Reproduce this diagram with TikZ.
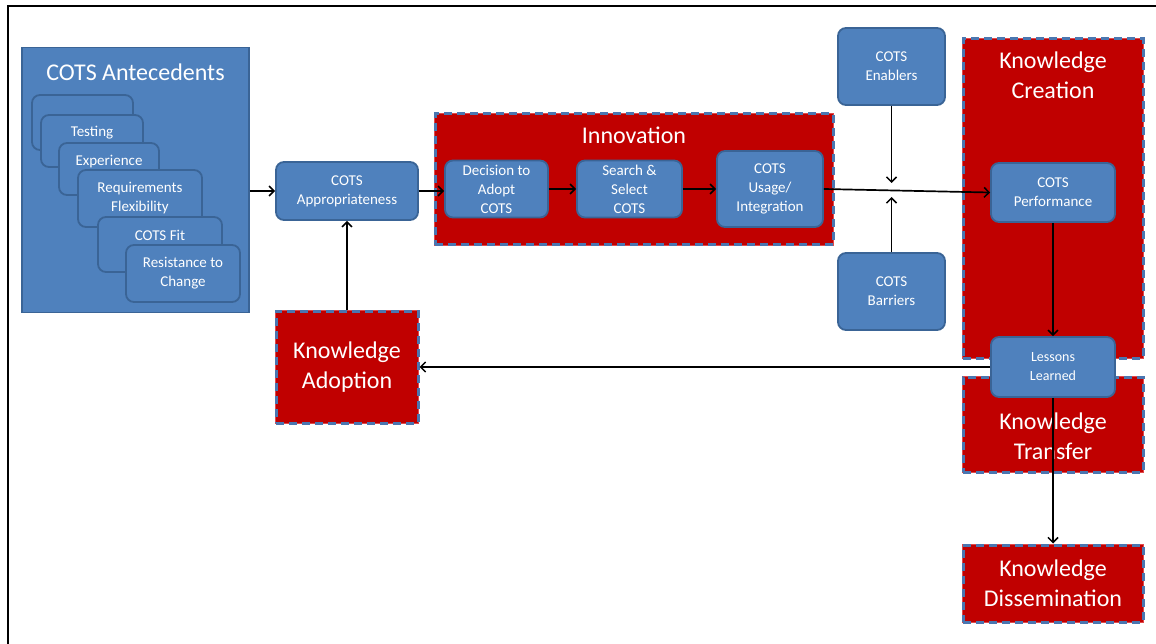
\documentclass[tikz,border=0pt]{standalone}
\usepackage{fontspec}
\setmainfont{Carlito}
\usetikzlibrary{arrows.meta}
\definecolor{blueF}{HTML}{4F81BD}
\definecolor{blueD}{HTML}{3A6496}
\definecolor{redF}{HTML}{C00000}
\definecolor{redL}{HTML}{E04848}
\definecolor{dashB}{HTML}{4A76B0}
\definecolor{arrowC}{HTML}{000000}
\tikzset{
  x=1pt, y=-1pt,
  bluebox/.style={rectangle, rounded corners=8pt, fill=blueF, draw=blueD, line width=1.8pt,
    text=white, font=\fontsize{15}{19}\selectfont, align=center, inner sep=0pt},
  redbox/.style={rectangle, fill=redF, draw=dashB, line width=3pt, dash pattern=on 8pt off 5pt,
    preaction={draw=redL, line width=2.2pt, solid},
    text=white, font=\fontsize{24}{30}\selectfont, align=center, inner sep=0pt},
  htext/.style={text=white, font=\fontsize{24}{30}\selectfont, align=center, inner sep=0pt},
  stext/.style={text=white, font=\fontsize{15}{19}\selectfont, align=center, inner sep=0pt},
  conn/.style={draw=arrowC, line width=1.7pt, -{Straight Barb[length=5pt,width=10pt,line width=1.5pt]}},
}
\begin{document}
\begin{tikzpicture}
\useasboundingbox (0,0) rectangle (1156,644);
\fill[white] (0,0) rectangle (1156,644);
% outer frame
\coordinate (fTL) at (8,6);
\coordinate (fTR) at (1156,6);
\coordinate (fBL) at (8,644);
\draw[black, line width=2.2pt] (fTR) -- (fTL) -- (fBL);

% COTS Antecedents
\node[rectangle, fill=blueF, draw=blueD, line width=1.8pt, minimum width=227pt, minimum height=265pt,
  label={[htext, anchor=center, yshift=-26pt]north:COTS Antecedents}] (ante) at (135.5,180) {};
\node[bluebox, minimum width=101pt, minimum height=55pt] (s1) at (82.5,122.5) {};
\node[bluebox, minimum width=102pt, minimum height=52pt,
  label={[stext, anchor=center, yshift=-19pt]north:Testing}] (s2) at (92,141) {};
\node[bluebox, minimum width=100pt, minimum height=52pt,
  label={[stext, anchor=center, yshift=-19pt]north:Experience}] (s3) at (109,169) {};
\node[bluebox, minimum width=124pt, minimum height=57pt,
  label={[stext, anchor=center, yshift=-29pt]north:Requirements\\Flexibility}] (s4) at (140,198.5) {};
\node[bluebox, minimum width=124pt, minimum height=55pt,
  label={[stext, anchor=center, yshift=-19.5pt]north:COTS Fit}] (s5) at (160,244.5) {};
\node[bluebox, minimum width=114pt, minimum height=57pt] (s6) at (183,273.5) {Resistance to\\Change};

% Appropriateness and adoption
\node[bluebox, minimum width=142pt, minimum height=58pt] (appr) at (347,191) {COTS\\Appropriateness};
\node[redbox, minimum width=142pt, minimum height=112pt] (kadopt) at (347,367) {Knowledge\\Adoption};

% Innovation
\node[redbox, minimum width=398pt, minimum height=131pt,
  label={[htext, anchor=center, yshift=-22.5pt]north:Innovation}] (innov) at (634,179.5) {};
\node[bluebox, minimum width=103pt, minimum height=57pt] (dec) at (496.5,189) {Decision to\\Adopt\\COTS};
\node[bluebox, minimum width=105pt, minimum height=57pt] (srch) at (629.5,189) {Search \&\\Select\\COTS};
\node[bluebox, minimum width=106pt, minimum height=76pt] (usage) at (770,189) {COTS\\Usage/\\Integration};

% Enablers / Barriers
\node[bluebox, minimum width=107pt, minimum height=77pt] (enab) at (891.5,66.5) {COTS\\Enablers};
\node[bluebox, minimum width=107pt, minimum height=77pt] (barr) at (891.5,291.5) {COTS\\Barriers};
\coordinate (enabEnd) at (891.5,183);
\coordinate (barrEnd) at (891.5,197);

% Knowledge creation / transfer / dissemination
\node[redbox, minimum width=180pt, minimum height=319pt,
  label={[htext, anchor=center, yshift=-38pt]north:Knowledge\\Creation}] (kcreate) at (1053,198.5) {};
\node[redbox, minimum width=180pt, minimum height=95pt,
  label={[htext, anchor=center, yshift=-11.5pt]center:Knowledge\\Transfer}] (ktrans) at (1053,424.5) {};
\node[redbox, minimum width=180pt, minimum height=77pt] (kdiss) at (1053,583.5) {Knowledge\\Dissemination};
\node[bluebox, minimum width=124pt, minimum height=59pt] (perf) at (1053,192.5) {COTS\\Performance};
\node[bluebox, minimum width=124pt, minimum height=60pt, font=\fontsize{14}{19}\selectfont] (less) at (1053,367) {Lessons\\Learned};

% connectors
\draw[conn] (appr.west -| ante.east) -- (appr.west);
\draw[conn] (appr.east) -- (appr.east -| dec.west);
\draw[conn] (dec.east) -- (srch.west);
\draw[conn] (srch.east) -- (srch.east -| usage.west);
\draw[conn] (usage.east) -- (perf.west);
\draw[conn] (kadopt.north) -- (appr.south);
\draw[conn] (enab.south) -- (enabEnd);
\draw[conn] (barr.north) -- (barrEnd);
\draw[conn] (perf.south) -- (less.north);
\draw[conn] (less.south) -- (kdiss.north);
\draw[conn] (less.west) -- (kadopt.east);
\end{tikzpicture}
\end{document}
